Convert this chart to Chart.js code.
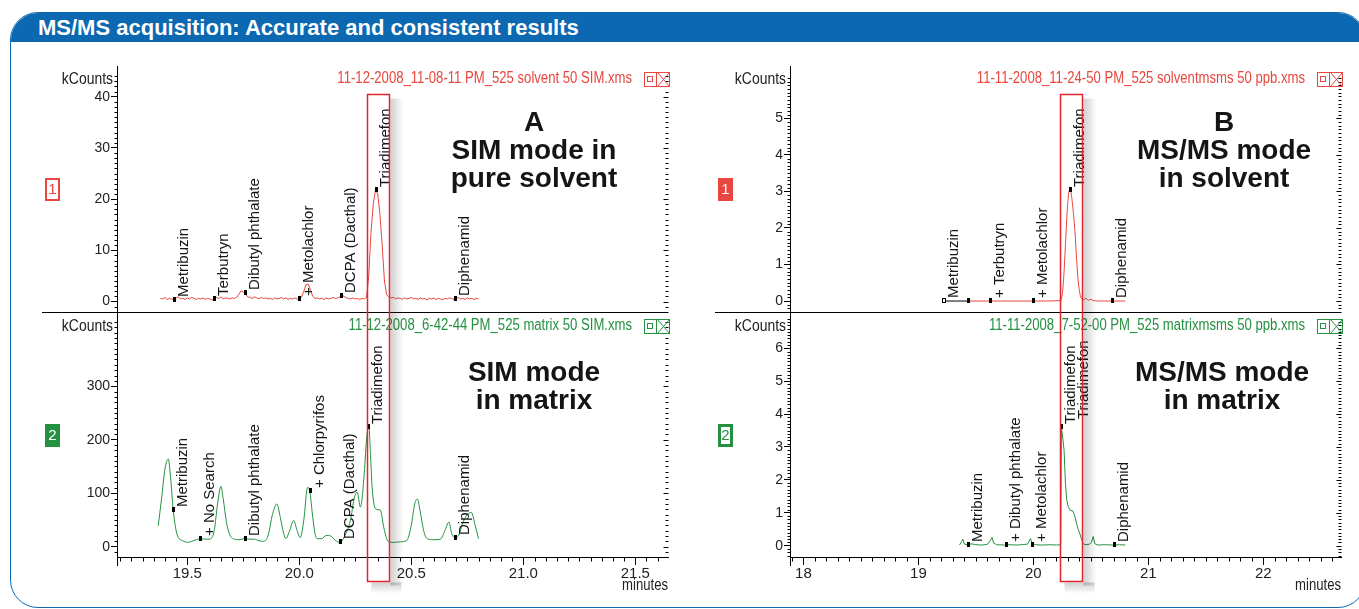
<!DOCTYPE html>
<html>
<head>
<meta charset="utf-8">
<script src="https://cdn.jsdelivr.net/npm/chart.js@4.4.0/dist/chart.umd.min.js"></script>
<style>
  html, body { margin: 0; padding: 0; background: #fff; width: 1359px; height: 609px; overflow: hidden;
    font-family: "Liberation Sans", Arial, sans-serif; }
  #frame { position: absolute; left: 10px; top: 12px; width: 1354px; height: 594px;
    border: 1.5px solid #0b68b1; border-radius: 28px; overflow: hidden; }
  #bar { position: absolute; left: 0; top: 0; right: 0; height: 29px; background: #0b68b1; }
  #title { position: absolute; left: 38px; top: 12px; height: 30px; line-height: 31px; color: #fff;
    font-weight: bold; font-size: 22px; }
  canvas { position: absolute; }
  .note { position: absolute; width: 260px; text-align: center; font-weight: bold; font-size: 28px;
    line-height: 28px; color: #151515; }
</style>
</head>
<body>
<div id="frame"><div id="bar"></div></div>
<div id="title">MS/MS acquisition: Accurate and consistent results</div>

<canvas id="cA1" width="650" height="255" style="left:30px;top:60px"></canvas>
<canvas id="cA2" width="650" height="294" style="left:30px;top:315px"></canvas>
<canvas id="cB1" width="655" height="255" style="left:700px;top:60px"></canvas>
<canvas id="cB2" width="655" height="294" style="left:700px;top:315px"></canvas>

<div class="note" style="left:404px;top:108px">A<br>SIM mode in<br>pure solvent</div>
<div class="note" style="left:404px;top:358px">SIM mode<br>in matrix</div>
<div class="note" style="left:1094px;top:108px">B<br>MS/MS mode<br>in solvent</div>
<div class="note" style="left:1092px;top:358px">MS/MS mode<br>in matrix</div>

<script>
// ---- data (minutes, kCounts) ----

// A, top: SIM in pure solvent
const a1Times = [19.38,19.39,19.40,19.41,19.42,19.43,19.44,19.45,19.46,19.47,19.48,19.49,19.50,19.51,19.52,19.53,19.54,19.55,19.56,19.57,
  19.58,19.59,19.60,19.61,19.62,19.63,19.64,19.65,19.66,19.67,19.68,19.69,19.70,19.71,19.72,19.73,19.74,19.75,19.76,19.77,
  19.78,19.79,19.80,19.81,19.82,19.83,19.84,19.85,19.86,19.87,19.88,19.89,19.90,19.91,19.92,19.93,19.94,19.95,19.96,19.97,
  19.98,19.99,20.00,20.01,20.02,20.03,20.04,20.05,20.06,20.07,20.08,20.09,20.10,20.11,20.12,20.13,20.14,20.15,20.16,20.17,
  20.18,20.19,20.20,20.21,20.22,20.23,20.24,20.25,20.26,20.27,20.28,20.29,20.30,20.31,20.32,20.33,20.34,20.35,20.36,20.37,
  20.38,20.39,20.40,20.41,20.42,20.43,20.44,20.45,20.46,20.47,20.48,20.49,20.50,20.51,20.52,20.53,20.54,20.55,20.56,20.57,
  20.58,20.59,20.60,20.61,20.62,20.63,20.64,20.65,20.66,20.67,20.68,20.69,20.70,20.71,20.72,20.73,20.74,20.75,20.76,20.77,
  20.78,20.79,20.80];
const a1Values = [0.6,0.5,0.8,0.4,0.6,0.5,0.3,0.7,0.9,0.5,0.6,0.4,0.7,0.5,0.8,0.6,0.4,0.6,0.5,0.7,
  0.4,0.6,0.5,0.3,0.4,0.8,0.6,0.9,0.5,0.7,0.6,0.5,0.7,0.6,0.8,1.4,2.1,1.9,1.4,0.9,
  0.8,0.6,0.9,0.7,0.5,0.8,0.6,0.7,0.5,0.6,0.4,0.7,0.5,0.6,0.8,0.5,0.7,0.4,0.6,0.5,
  0.7,0.5,0.4,0.9,2.0,3.3,3.4,2.2,1.0,0.6,0.7,0.5,0.6,0.4,0.7,0.5,0.6,0.8,0.6,0.7,
  0.9,1.2,1.0,0.7,0.6,0.5,0.7,0.5,0.6,0.4,0.6,0.5,0.8,5.0,13.5,19.0,21.8,21.0,17.0,11.0,
  4.0,1.3,0.9,0.7,0.8,0.5,0.7,0.6,0.4,0.7,0.5,0.6,0.8,0.5,0.6,0.4,0.7,0.5,0.6,0.3,
  0.6,0.5,0.7,0.4,0.6,0.5,0.3,0.6,0.5,0.7,0.6,0.4,0.6,0.8,0.5,0.6,0.4,0.7,0.5,0.6,
  0.4,0.6,0.5];
const a1MarkNames  = ['Metribuzin', 'Terbutryn', 'Dibutyl phthalate', '+ Metolachlor', 'DCPA (Dacthal)', 'Triadimefon', 'Diphenamid'];
const a1MarkTimes  = [19.44, 19.62, 19.758, 20.0, 20.186, 20.344, 20.693];
const a1MarkValues = [0.3, 0.4, 1.6, 0.4, 1.0, 21.8, 0.5];

// A, bottom: SIM in matrix
const a2Times = [19.37,19.385,19.40,19.415,19.425,19.437,19.45,19.46,19.48,19.50,19.52,19.54,19.557,19.58,19.60,19.62,19.635,19.65,19.66,19.675,
  19.69,19.71,19.73,19.758,19.78,19.80,19.82,19.84,19.86,19.88,19.90,19.915,19.93,19.94,19.955,19.975,19.99,20.004,20.02,20.037,
  20.046,20.06,20.07,20.08,20.10,20.12,20.14,20.16,20.183,20.20,20.228,20.245,20.258,20.273,20.288,20.30,20.31,20.318,20.325,20.34,
  20.362,20.377,20.39,20.40,20.42,20.45,20.48,20.50,20.515,20.527,20.54,20.555,20.571,20.60,20.63,20.65,20.668,20.68,20.693,20.71,
  20.73,20.75,20.768,20.785,20.80];
const a2Values = [39,90,145,164,130,69,30,17,11,8,10,13,15,14,14,30,80,113,90,45,
  22,14,13,15,14,14,11,10,20,60,80,55,25,15,28,49,30,17,50,111,
  105,55,25,15,15,21,20,12,8,18,49,90,102,74,127,200,227,170,111,71,
  68,36,15,9,8,9,12,40,80,89,65,30,15,13,14,30,46,25,17,20,
  45,60,64,40,15];
const a2MarkNames  = ['Metribuzin', '+ No Search', 'Dibutyl phthalate', '+ Chlorpyrifos', 'DCPA (Dacthal)', 'Triadimefon', 'Diphenamid'];
const a2MarkTimes  = [19.437, 19.557, 19.758, 20.046, 20.183, 20.307, 20.693];
const a2MarkValues = [69, 15, 15, 105, 8, 224, 17];

// B, top: MS/MS in solvent
const b1Times = [19.22,19.43,19.70,20.00,20.238,20.25,20.265,20.28,20.295,20.31,20.322,20.335,20.35,20.363,20.375,20.39,20.405,20.42,20.44,20.45,
  20.465,20.48,20.50,20.52,20.60,20.70,20.80];
const b1Values = [0,0,0,0,0.01,0.15,0.7,1.6,2.5,3.0,3.05,2.8,2.35,1.85,1.2,0.55,0.2,0.06,0.03,0.07,
  0.06,0.02,0.05,0.01,0,0,0];
const b1MarkNames  = ['Metribuzin', '', '+ Terbutryn', '+ Metolachlor', 'Triadimefon', 'Diphenamid'];
const b1MarkTimes  = [19.22, 19.43, 19.619, 19.995, 20.322, 20.686];
const b1MarkValues = [0, 0, 0, 0, 3.05, 0];

// B, bottom: MS/MS in matrix
const b2Times = [19.357,19.375,19.387,19.40,19.43,19.46,19.50,19.55,19.60,19.625,19.64,19.655,19.68,19.75,19.80,19.85,19.90,19.95,19.975,19.99,
  20.02,20.08,20.15,20.20,20.238,20.244,20.255,20.267,20.279,20.29,20.302,20.32,20.345,20.36,20.375,20.39,20.403,20.414,20.424,20.435,
  20.46,20.49,20.505,20.52,20.535,20.56,20.62,20.70,20.75,20.80];
const b2Values = [0.02,0.12,0.2,0.05,0.02,0.06,0.03,0.02,0.04,0.15,0.25,0.08,0.03,0.02,0.03,0.02,0.03,0.05,0.22,0.06,
  0.03,0.02,0.03,0.02,0.03,3.6,3.3,2.9,1.9,1.4,1.19,1.08,1.05,0.9,0.69,0.5,0.38,0.25,0.15,0.05,
  0.03,0.05,0.1,0.28,0.06,0.02,0.03,0.02,0.03,0.02];
const b2MarkNames  = ['Metribuzin', '+ Dibutyl phthalate', '+ Metolachlor', 'Triadimefon', 'Triadimefon', 'Diphenamid'];
const b2MarkTimes  = [19.43, 19.76, 19.99, 20.244, 20.353, 20.70];
const b2MarkValues = [0.02, 0.02, 0.03, 3.6, 3.75, 0.02];

// axis ticks
const aXTicks = [19.5, 20.0, 20.5, 21.0, 21.5];
const aXTickLabels = ['19.5', '20.0', '20.5', '21.0', '21.5'];
const bXTicks = [18, 19, 20, 21, 22];
const bXTickLabels = ['18', '19', '20', '21', '22'];
const a1YTicks = [0, 10, 20, 30, 40];
const a2YTicks = [0, 100, 200, 300];
const b1YTicks = [0, 1, 2, 3, 4, 5];
const b2YTicks = [0, 1, 2, 3, 4, 5, 6];

// ---- styling ----
const RED = '#e8463e', GREEN = '#23913f', BOXRED = '#e0252c';

function hasFont(name) {
  const c = document.createElement('canvas').getContext('2d');
  const s = 'abcdefghijklmnopqrstuvwxyz0123456789';
  return ['monospace', 'serif'].some(g => {
    c.font = '40px ' + g;
    const w0 = c.measureText(s).width;
    c.font = '40px "' + name + '", ' + g;
    return c.measureText(s).width !== w0;
  });
}
const NARROW = hasFont('Liberation Sans Narrow');

function tickFont(size) {
  return NARROW ? { family: '"Liberation Sans Narrow"', size: size }
                : { family: '"Liberation Sans"', size: Math.round(size * 0.86) };
}

// condensed instrument-software style text
function condText(ctx, text, x, y, size, align, color) {
  ctx.save();
  ctx.fillStyle = color;
  ctx.textAlign = align;
  ctx.textBaseline = 'middle';
  ctx.translate(x, y);
  if (NARROW) {
    ctx.font = size + 'px "Liberation Sans Narrow"';
  } else {
    ctx.scale(0.82, 1);
    ctx.font = size + 'px "Liberation Sans"';
  }
  ctx.fillText(text, 0, 0);
  ctx.restore();
}

function hline(ctx, x0, x1, y) { ctx.beginPath(); ctx.moveTo(x0, y); ctx.lineTo(x1, y); ctx.stroke(); }
function vline(ctx, x, y0, y1) { ctx.beginPath(); ctx.moveTo(x, y0); ctx.lineTo(x, y1); ctx.stroke(); }
function isMajor(v, list) { return list.some(m => Math.abs(m - v) < 1e-6); }

// per-canvas decoration settings
const decor = {
  cA1: { file: '11-12-2008_11-08-11 PM_525 solvent 50 SIM.xms', color: RED, headDy: 4,
         badge: '1', badgeFill: false, badgeDy: 103, yMinor: 1, yTicks: a1YTicks, part: 'top',
         names: a1MarkNames, times: a1MarkTimes, values: a1MarkValues, open: [], hidden: [],
         box: [20.302, 20.399], boxTop: 40.47 },
  cA2: { file: '11-12-2008_6-42-44 PM_525 matrix 50 SIM.xms', color: GREEN, headDy: 8,
         badge: '2', badgeFill: true, badgeDy: 106, yMinor: 10, yTicks: a2YTicks, part: 'bottom',
         xMinor: 0.05, xTicks: aXTicks,
         names: a2MarkNames, times: a2MarkTimes, values: a2MarkValues, open: [], hidden: [],
         box: [20.302, 20.399], boxBelow: 24 },
  cB1: { file: '11-11-2008_11-24-50 PM_525 solventmsms 50 ppb.xms', color: RED, headDy: 4,
         badge: '1', badgeFill: true, badgeDy: 103, yMinor: 0.1, yTicks: b1YTicks, part: 'top',
         names: b1MarkNames, times: b1MarkTimes, values: b1MarkValues, open: [0], hidden: [],
         box: [20.232, 20.424], boxTop: 5.66 },
  cB2: { file: '11-11-2008_7-52-00 PM_525 matrixmsms 50 ppb.xms', color: GREEN, headDy: 8,
         badge: '2', badgeFill: 'double', badgeDy: 106, yMinor: 0.1, yTicks: b2YTicks, part: 'bottom',
         xMinor: 0.1, xTicks: bXTicks,
         names: b2MarkNames, times: b2MarkTimes, values: b2MarkValues, open: [], hidden: [4],
         box: [20.232, 20.424], boxBelow: 24 }
};

const chromDecor = {
  id: 'chromDecor',
  afterDraw(chart) {
    const d = decor[chart.canvas.id];
    const { ctx, chartArea: a } = chart;
    const xs = chart.scales.x, ys = chart.scales.y;
    const L = Math.floor(a.left) + 0.5, R = Math.floor(a.right) + 0.5;
    ctx.save();
    ctx.strokeStyle = '#000';
    ctx.lineWidth = 1;

    // y axis line runs on through the gap between the two traces
    if (d.part === 'top') vline(ctx, L, a.top - 9, chart.height);
    else vline(ctx, L, 0, a.bottom + 9);

    // minor ticks on the left axis, tick column on the right edge
    const n0 = Math.ceil(ys.min / d.yMinor - 1e-6), n1 = Math.floor(ys.max / d.yMinor + 1e-6);
    for (let i = n0; i <= n1; i++) {
      const v = i * d.yMinor;
      const py = Math.round(ys.getPixelForValue(v)) + 0.5;
      const major = isMajor(v, d.yTicks);
      if (!major) hline(ctx, L - 3, L, py);
      hline(ctx, R - (major ? 5 : 3), R, py);
    }

    // minor ticks on the time axis
    if (d.xMinor) {
      const m0 = Math.ceil(xs.min / d.xMinor - 1e-6), m1 = Math.floor(xs.max / d.xMinor + 1e-6);
      const by = Math.floor(a.bottom) + 0.5;
      for (let i = m0; i <= m1; i++) {
        const v = i * d.xMinor;
        if (isMajor(v, d.xTicks)) continue;
        const px = Math.round(xs.getPixelForValue(v)) + 0.5;
        vline(ctx, px, by, by + 4);
      }
      condText(ctx, 'minutes', a.right, a.bottom + 29, 16, 'right', '#222');
    }

    // separator under the upper trace
    if (d.part === 'top') hline(ctx, a.left - 75, a.right, Math.floor(a.bottom) + 0.5);

    // header: kCounts, file name, window buttons
    const hy = a.top + d.headDy;
    condText(ctx, 'kCounts', a.left - 4, hy, 17, 'right', '#222');
    condText(ctx, d.file, a.right - 36, hy, 16, 'right', d.color);
    ctx.strokeStyle = d.color;
    const ix = Math.floor(a.right) - 24 + 0.5, iy = Math.floor(hy - 7) + 0.5;
    ctx.strokeRect(ix, iy, 25, 14);
    vline(ctx, ix + 12, iy, iy + 14);
    ctx.strokeRect(ix + 3, iy + 4, 5, 5);
    ctx.beginPath();
    ctx.moveTo(ix + 13, iy); ctx.lineTo(ix + 25, iy + 14);
    ctx.moveTo(ix + 25, iy); ctx.lineTo(ix + 13, iy + 14);
    ctx.stroke();

    // trace number badge
    const bx = a.left - 72, by = a.top + d.badgeDy;
    if (d.badgeFill === true) {
      ctx.fillStyle = d.color; ctx.fillRect(bx, by, 15, 23);
    } else if (d.badgeFill === 'double') {
      ctx.fillStyle = d.color; ctx.fillRect(bx, by, 15, 23);
      ctx.fillStyle = '#fff'; ctx.fillRect(bx + 3, by + 3, 9, 17);
    } else {
      ctx.lineWidth = 2; ctx.strokeRect(bx + 1, by + 1, 13, 21); ctx.lineWidth = 1;
    }
    ctx.fillStyle = d.badgeFill === true ? '#fff' : d.color;
    ctx.font = '15px "Liberation Sans"';
    ctx.textAlign = 'center'; ctx.textBaseline = 'middle';
    ctx.fillText(d.badge, bx + 7.5, by + 12);

    // peak markers and compound names
    ctx.font = '15px "Liberation Sans"';
    ctx.textAlign = 'left'; ctx.textBaseline = 'top';
    d.times.forEach((t, i) => {
      const px = xs.getPixelForValue(t), py = ys.getPixelForValue(d.values[i]);
      if (d.open.includes(i)) {
        ctx.fillStyle = '#fff'; ctx.strokeStyle = '#000';
        ctx.fillRect(Math.round(px) - 2, Math.round(py) - 3, 4, 5);
        ctx.strokeRect(Math.round(px) - 1.5, Math.round(py) - 2.5, 3, 4);
      } else if (!d.hidden.includes(i)) {
        ctx.fillStyle = '#000';
        ctx.fillRect(Math.round(px) - 1, Math.round(py) - 3, 3, 5);
      }
      if (d.names[i]) {
        ctx.save();
        ctx.fillStyle = '#151515';
        ctx.translate(Math.round(px) + 2, Math.round(py) - 3);
        ctx.rotate(-Math.PI / 2);
        ctx.fillText(d.names[i], 0, 0);
        ctx.restore();
      }
    });

    // highlight box around Triadimefon with its drop shadow
    const x0 = Math.round(xs.getPixelForValue(d.box[0])) + 0.5;
    const x1 = Math.round(xs.getPixelForValue(d.box[1])) + 0.5;
    const y0 = d.part === 'top' ? Math.round(ys.getPixelForValue(d.boxTop)) + 0.5 : -2;
    const y1 = d.part === 'top' ? chart.height + 2 : Math.round(a.bottom + d.boxBelow) + 0.5;
    let g = ctx.createLinearGradient(x1, 0, x1 + 14, 0);
    g.addColorStop(0, 'rgba(0,0,0,0.2)');
    g.addColorStop(1, 'rgba(0,0,0,0)');
    ctx.fillStyle = g;
    ctx.fillRect(x1 + 1, d.part === 'top' ? y0 + 4 : y0, 14, (d.part === 'top' ? y1 : y1 + 4) - (d.part === 'top' ? y0 + 4 : y0));
    if (d.part === 'bottom') {
      g = ctx.createLinearGradient(0, y1, 0, y1 + 12);
      g.addColorStop(0, 'rgba(0,0,0,0.2)');
      g.addColorStop(1, 'rgba(0,0,0,0)');
      ctx.fillStyle = g;
      ctx.fillRect(x0 + 4, y1 + 1, x1 - x0 + 8, 12);
    }
    ctx.strokeStyle = BOXRED;
    ctx.lineWidth = 1.5;
    ctx.beginPath();
    if (d.part === 'top') {
      ctx.moveTo(x0, y1); ctx.lineTo(x0, y0); ctx.lineTo(x1, y0); ctx.lineTo(x1, y1);
    } else {
      ctx.moveTo(x0, y0); ctx.lineTo(x0, y1); ctx.lineTo(x1, y1); ctx.lineTo(x1, y0);
    }
    ctx.stroke();
    ctx.restore();
  }
};

function zeroPad(scale) {
  scale.paddingTop = 0; scale.paddingBottom = 0;
  scale.paddingLeft = 0; scale.paddingRight = 0;
}

function buildChart(id, o) {
  return new Chart(document.getElementById(id), {
    type: 'line',
    data: {
      datasets: [{
        data: o.times.map((t, i) => ({ x: t, y: o.values[i] })),
        borderColor: o.color,
        borderWidth: 1,
        pointRadius: 0,
        tension: 0,
        cubicInterpolationMode: o.smooth ? 'monotone' : 'default',
        segment: o.segment
      }]
    },
    options: {
      responsive: false,
      animation: false,
      events: [],
      layout: { padding: o.padding },
      plugins: { legend: { display: false }, tooltip: { enabled: false } },
      scales: {
        x: {
          type: 'linear', min: o.xMin, max: o.xMax, display: o.showX,
          afterBuildTicks: s => { s.ticks = o.xTicks.map(v => ({ value: v })); },
          afterFit: s => { s.height = o.showX ? 30 : 0; zeroPad(s); },
          ticks: { callback: (v, i) => o.xTickLabels[i], font: tickFont(17), color: '#222',
                   padding: 0, maxRotation: 0, autoSkip: false },
          grid: { drawOnChartArea: false, drawTicks: true, tickLength: 8, color: '#000' },
          border: { display: true, color: '#000' }
        },
        y: {
          type: 'linear', min: o.yMin, max: o.yMax,
          afterBuildTicks: s => { s.ticks = o.yTicks.map(v => ({ value: v })); },
          afterFit: s => { s.width = o.yWidth; zeroPad(s); },
          ticks: { callback: (v, i) => String(o.yTicks[i]), font: tickFont(16), color: '#222',
                   padding: 1, autoSkip: false },
          grid: { drawOnChartArea: false, drawTicks: true, tickLength: 6, color: '#000' },
          border: { display: true, color: '#000' }
        }
      }
    },
    plugins: [chromDecor]
  });
}

Chart.defaults.font.family = '"Liberation Sans", Arial, sans-serif';

buildChart('cA1', {
  times: a1Times, values: a1Values, color: RED, smooth: false,
  xMin: 19.186, xMax: 21.646, xTicks: aXTicks, xTickLabels: aXTickLabels, showX: false,
  yMin: -2.05, yMax: 44.24, yTicks: a1YTicks, yWidth: 87,
  padding: { top: 15, right: 12, bottom: 3, left: 0 }
});
buildChart('cA2', {
  times: a2Times, values: a2Values, color: GREEN, smooth: true,
  xMin: 19.186, xMax: 21.646, xTicks: aXTicks, xTickLabels: aXTickLabels, showX: true,
  yMin: -19.3, yMax: 427.5, yTicks: a2YTicks, yWidth: 87,
  padding: { top: 3, right: 12, bottom: 22, left: 0 }
});
buildChart('cB1', {
  times: b1Times, values: b1Values, color: RED, smooth: true,
  segment: { borderColor: c => (b1Times[c.p1DataIndex] <= 19.43 ? '#000' : RED) },
  xMin: 17.883, xMax: 22.676, xTicks: bXTicks, xTickLabels: bXTickLabels, showX: false,
  yMin: -0.30, yMax: 6.185, yTicks: b1YTicks, yWidth: 90,
  padding: { top: 15, right: 14, bottom: 3, left: 0 }
});
buildChart('cB2', {
  times: b2Times, values: b2Values, color: GREEN, smooth: false,
  xMin: 17.883, xMax: 22.676, xTicks: bXTicks, xTickLabels: bXTickLabels, showX: true,
  yMin: -0.343, yMax: 6.92, yTicks: b2YTicks, yWidth: 90,
  padding: { top: 3, right: 14, bottom: 22, left: 0 }
});
</script>
</body>
</html>
